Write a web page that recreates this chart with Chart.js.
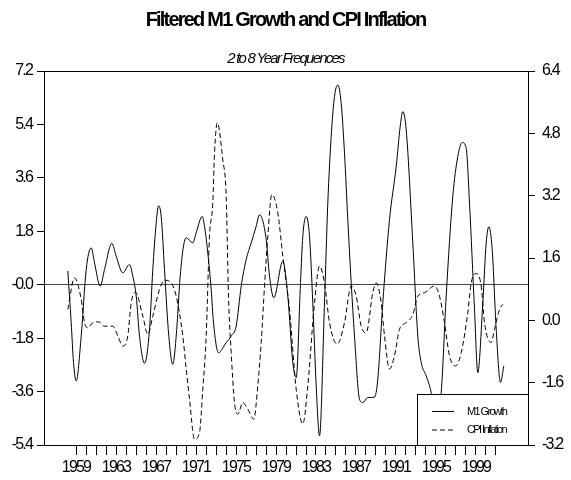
<!DOCTYPE html>
<html>
<head>
<meta charset="utf-8">
<script src="https://cdn.jsdelivr.net/npm/chart.js@4.4.1/dist/chart.umd.min.js"></script>
<style>
  html, body { margin: 0; padding: 0; background: #fff; }
</style>
</head>
<body>
<canvas id="chart" width="571" height="480"></canvas>
<script>
/* ---- data ---- */
const m1Years = [1958.18, 1958.52, 1958.75, 1959.02, 1959.52, 1960.02, 1960.52, 1960.85, 1961.42, 1961.85,
  1962.58, 1963.02, 1963.68, 1964.35, 1964.68, 1965.02, 1965.35, 1965.85, 1966.35, 1966.68,
  1967.02, 1967.25, 1967.52, 1967.85, 1968.28, 1968.68, 1969.02, 1969.42, 1969.75, 1970.02,
  1970.68, 1971.02, 1971.62, 1971.85, 1972.18, 1972.52, 1972.75, 1973.25, 1974.02, 1974.52,
  1975.02, 1975.52, 1976.02, 1976.52, 1977.02, 1977.35, 1978.02, 1978.35, 1978.78, 1979.68,
  1980.18, 1980.68, 1981.02, 1981.45, 1981.68, 1982.02, 1982.35, 1982.68, 1983.02, 1983.35,
  1983.85, 1984.18, 1984.52, 1984.85, 1985.18, 1985.52, 1985.85, 1986.18, 1986.52, 1986.85,
  1987.35, 1987.68, 1988.18, 1988.85, 1989.18, 1989.68, 1990.35, 1991.02, 1991.42, 1991.68,
  1992.02, 1992.68, 1993.18, 1993.52, 1994.02, 1994.52, 1994.95, 1995.52, 1996.02, 1996.68,
  1997.18, 1997.62, 1998.02, 1998.35, 1998.85, 1999.18, 1999.68, 2000.02, 2000.28, 2000.62,
  2001.02, 2001.45, 2001.78];
const m1Growth = [0.46, -1.28, -2.62, -3.24, -1.73, 0.51, 1.24, 0.74, -0.05, 0.51,
  1.39, 0.96, 0.40, 0.68, 0.29, -0.38, -1.73, -2.65, -1.50, 0.51,
  2.08, 2.66, 2.30, 0.51, -1.73, -2.68, -1.73, 0.29, 1.30, 1.58,
  1.41, 1.75, 2.30, 1.97, 1.07, -0.16, -1.28, -2.29, -1.95, -1.73,
  -1.39, -0.05, 0.85, 1.41, 1.97, 2.36, 1.52, 0.29, -0.44, 0.79,
  -0.38, -2.62, -3.13, 0.07, 1.63, 2.30, 1.63, -0.61, -3.41, -5.09,
  -0.61, 2.75, 5.00, 6.34, 6.73, 6.11, 4.43, 2.19, 0.07, -1.73,
  -3.86, -3.97, -3.80, -3.79, -3.18, -0.61, 2.19, 3.98, 5.33, 5.83,
  5.22, 1.41, -1.73, -2.62, -3.07, -3.63, -4.50, -3.63, -0.38, 2.98,
  4.32, 4.79, 4.60, 2.75, -0.83, -2.96, -0.61, 1.41, 1.95, 1.19,
  -1.50, -3.29, -2.74];

const cpiYears = [1958.18, 1958.85, 1959.52, 1959.85, 1960.18, 1960.68, 1961.28, 1961.85, 1962.68, 1963.18,
  1963.68, 1964.18, 1964.52, 1964.95, 1965.68, 1966.18, 1966.68, 1967.35, 1967.85, 1968.52,
  1969.02, 1969.68, 1970.02, 1970.35, 1970.85, 1971.35, 1971.68, 1972.02, 1972.35, 1972.68,
  1972.85, 1973.13, 1973.68, 1974.02, 1974.25, 1974.52, 1974.85, 1975.18, 1975.68, 1976.18,
  1976.78, 1977.18, 1977.52, 1977.85, 1978.18, 1978.58, 1979.18, 1979.68, 1980.35, 1981.02,
  1981.68, 1982.18, 1982.85, 1983.35, 1983.85, 1984.35, 1985.12, 1985.85, 1986.52, 1987.02,
  1987.52, 1988.02, 1988.68, 1989.02, 1989.52, 1989.85, 1990.35, 1990.85, 1991.35, 1992.02,
  1992.68, 1993.18, 1993.85, 1994.85, 1995.35, 1995.85, 1996.35, 1996.95, 1997.52, 1998.18,
  1998.52, 1999.02, 1999.52, 1999.85, 2000.52, 2000.85, 2001.35, 2001.68];
const cpiInflation = [0.28, 1.09, 0.54, -0.06, -0.19, -0.06, -0.04, -0.15, -0.15, -0.40,
  -0.66, -0.40, 0.45, 0.72, 0.11, -0.36, 0.11, 0.79, 1.03, 0.96,
  0.62, -0.40, -1.25, -2.02, -3.05, -2.88, -1.77, -0.40, 2.16, 3.01,
  4.29, 5.07, 4.12, 3.18, 0.62, -0.83, -2.11, -2.41, -2.11, -2.28,
  -2.54, -1.68, -0.57, 0.88, 2.16, 3.23, 2.76, 1.65, 0.28, -1.77,
  -2.66, -1.68, 0.45, 1.39, 0.96, -0.06, -0.61, -0.06, 0.88, 0.62,
  -0.15, -0.32, 0.71, 0.96, 0.45, -0.40, -1.25, -0.91, -0.23, -0.06,
  0.15, 0.62, 0.71, 0.88, 0.62, -0.06, -0.91, -1.17, -0.83, 0.20,
  0.96, 1.20, 0.88, -0.06, -0.57, -0.23, 0.28, 0.41];

const leftTicks = [-5.4, -3.6, -1.8, 0, 1.8, 3.6, 5.4, 7.2];
const leftTickLabels = ['-5.4', '-3.6', '-1.8', '-0.0', '1.8', '3.6', '5.4', '7.2'];
const rightTicks = [-3.2, -1.6, 0, 1.6, 3.2, 4.8, 6.4];
const rightTickLabels = ['-3.2', '-1.6', '0.0', '1.6', '3.2', '4.8', '6.4'];
const firstTickYear = 1959;
const lastTickYear = 2001;
const labelYears = [1959, 1963, 1967, 1971, 1975, 1979, 1983, 1987, 1991, 1995, 1999];

/* ---- look ---- */
const FONT = "'Liberation Sans', Arial, sans-serif";
Chart.defaults.font.family = FONT;
Chart.defaults.color = '#000';

const tickYears = [];
for (let y = firstTickYear; y <= lastTickYear; y++) tickYears.push(y);

// tight kerning like the original output
const tightText = {
  id: 'tightText',
  beforeDraw(chart) { chart.ctx.letterSpacing = '-1.8px'; }
};

// boxed legend in the lower right corner, white so it hides the lines beneath
const boxLegend = {
  id: 'boxLegend',
  afterDatasetsDraw(chart) {
    const { ctx, chartArea: a } = chart;
    const w = 111, h = 51;
    const x = Math.round(a.right - w), y = Math.round(a.bottom - h);
    ctx.save();
    ctx.fillStyle = '#fff';
    ctx.fillRect(x, y, w, h);
    ctx.strokeStyle = '#000';
    ctx.lineWidth = 1;
    ctx.strokeRect(x + 0.5, y + 0.5, w, h);
    chart.data.datasets.forEach((ds, i) => {
      const ly = y + 17.5 + i * 18.5;
      ctx.beginPath();
      ctx.setLineDash(ds.borderDash || []);
      ctx.moveTo(x + 15, ly);
      ctx.lineTo(x + 37, ly);
      ctx.stroke();
      ctx.setLineDash([]);
      ctx.font = '11px ' + FONT;
      ctx.letterSpacing = '-1.6px';
      ctx.fillStyle = '#000';
      ctx.textAlign = 'left';
      ctx.textBaseline = 'middle';
      ctx.fillText(ds.label, x + 50, ly);
    });
    ctx.restore();
  }
};

new Chart(document.getElementById('chart'), {
  type: 'line',
  data: {
    datasets: [
      {
        label: 'M1 Growth',
        data: m1Years.map((x, i) => ({ x, y: m1Growth[i] })),
        yAxisID: 'y',
        borderColor: '#000', borderWidth: 1,
        pointRadius: 0, cubicInterpolationMode: 'monotone', fill: false
      },
      {
        label: 'CPI Inflation',
        data: cpiYears.map((x, i) => ({ x, y: cpiInflation[i] })),
        yAxisID: 'y1',
        borderColor: '#000', borderWidth: 1, borderDash: [5, 3],
        pointRadius: 0, cubicInterpolationMode: 'monotone', fill: false
      }
    ]
  },
  options: {
    responsive: false,
    animation: false,
    layout: { padding: 0 },
    plugins: {
      legend: { display: false },
      tooltip: { enabled: false },
      title: {
        display: true,
        text: 'Filtered M1 Growth and CPI Inflation',
        color: '#000',
        font: { size: 20, weight: 'bold' },
        padding: { top: 8, bottom: 14 }
      },
      subtitle: {
        display: true,
        text: '2 to 8 Year Frequences',
        color: '#000',
        font: { size: 15, style: 'italic' },
        padding: { top: 4, bottom: 3 }
      }
    },
    scales: {
      x: {
        type: 'linear',
        min: 1955.8, max: 2004.2,
        afterBuildTicks: s => { s.ticks = tickYears.map(v => ({ value: v })); },
        afterFit: s => { s.height = 35; },
        ticks: {
          autoSkip: false, maxRotation: 0, padding: 3,
          font: { size: 16 },
          callback: v => labelYears.includes(v) ? String(v) : ''
        },
        grid: { display: true, drawOnChartArea: false, drawTicks: true, tickLength: 10, color: '#000' },
        border: { display: true, color: '#000' }
      },
      y: {
        position: 'left',
        min: -5.4, max: 7.2,
        afterBuildTicks: s => { s.ticks = leftTicks.map(v => ({ value: v })); },
        afterFit: s => { s.width = 44; },
        ticks: {
          padding: 5, font: { size: 16 },
          callback: (v, i) => leftTickLabels[i]
        },
        grid: {
          drawOnChartArea: true, drawTicks: true, tickLength: 7, tickColor: '#000',
          color: c => c.tick && c.tick.value === 0 ? '#444' : (c.tick && c.tick.value === 7.2 ? '#000' : 'rgba(0,0,0,0)')
        },
        border: { display: true, color: '#000' }
      },
      y1: {
        position: 'right',
        min: -3.2, max: 6.4,
        afterBuildTicks: s => { s.ticks = rightTicks.map(v => ({ value: v })); },
        afterFit: s => { s.width = 43; },
        ticks: {
          padding: 7, font: { size: 16 },
          callback: (v, i) => rightTickLabels[i]
        },
        grid: { drawOnChartArea: false, drawTicks: true, tickLength: 7, color: '#000' },
        border: { display: true, color: '#000' }
      }
    }
  },
  plugins: [tightText, boxLegend]
});
</script>
</body>
</html>
